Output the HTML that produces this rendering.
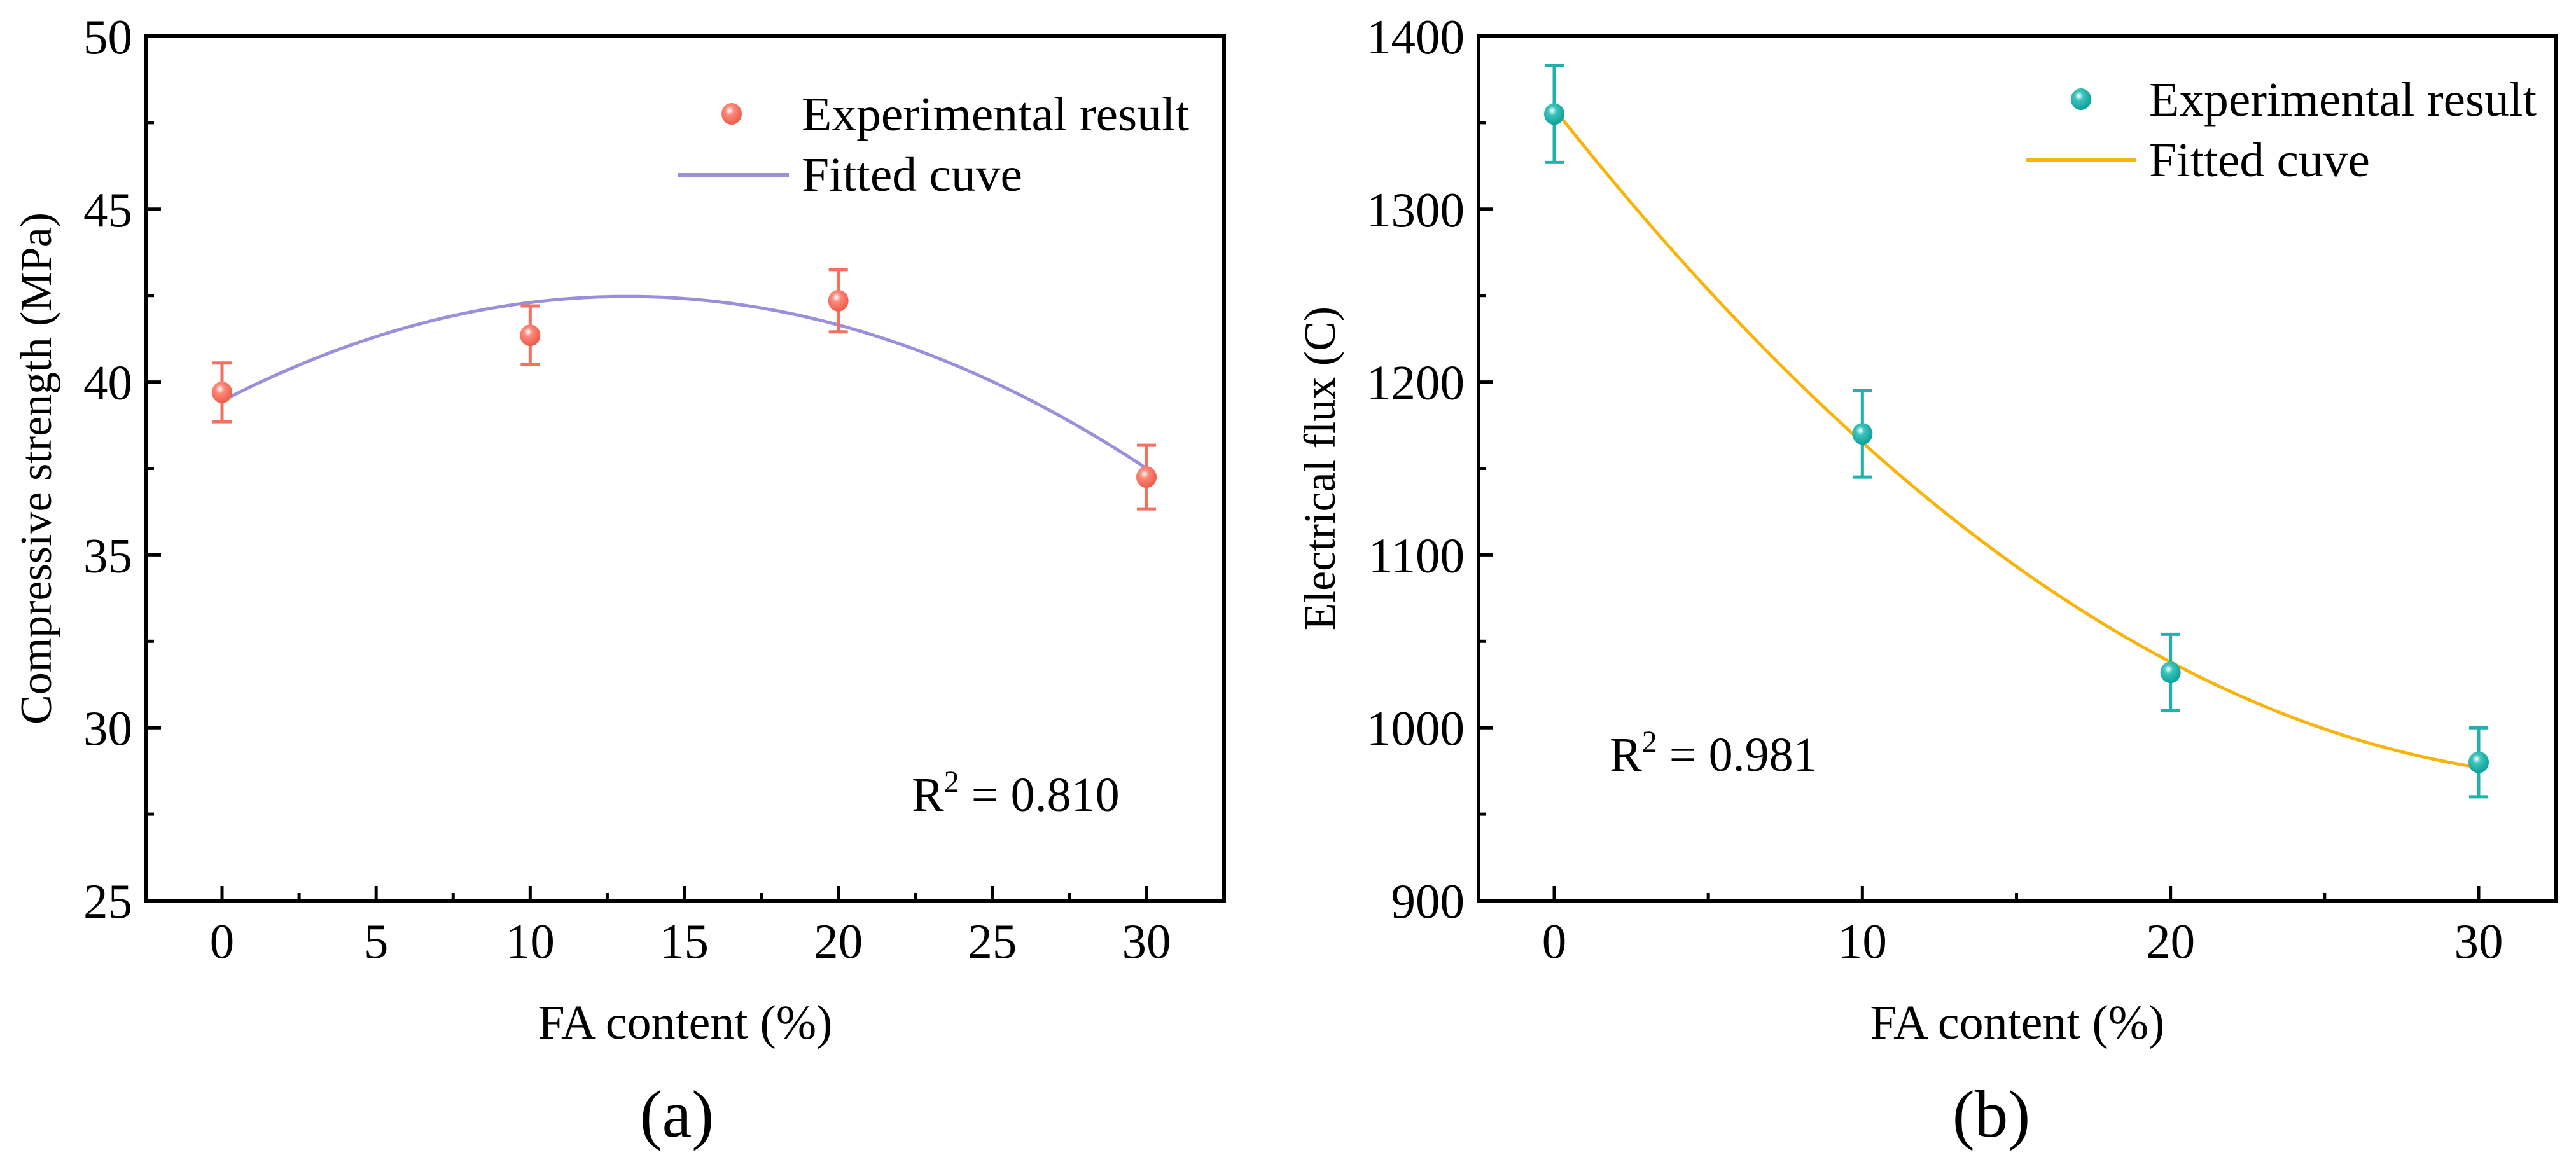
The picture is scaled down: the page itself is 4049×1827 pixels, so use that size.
<!DOCTYPE html>
<html><head><meta charset="utf-8"><style>
html,body{margin:0;padding:0;background:#fff}
svg{display:block;font-family:"Liberation Serif",serif}
</style></head><body>
<svg id="chart" width="4049" height="1827" viewBox="0 0 4049 1827" xmlns="http://www.w3.org/2000/svg">
<defs>
<radialGradient id="gRed" cx="0.4" cy="0.35" r="0.6"><stop offset="0" stop-color="#fff"/><stop offset="0.35" stop-color="#fb8a7a"/><stop offset="1" stop-color="#f0604e"/></radialGradient>
<radialGradient id="gTeal" cx="0.4" cy="0.35" r="0.6"><stop offset="0" stop-color="#fff"/><stop offset="0.35" stop-color="#3cc4bc"/><stop offset="1" stop-color="#12a39c"/></radialGradient>
</defs>
<g id="pa"></g>
<g id="pb"></g>
</svg>
<script>
const NS='http://www.w3.org/2000/svg';
// Panel A data
const aX=[0,10,20,30];
const aY=[39.7,41.35,42.35,37.25];
const aErr=[0.85,0.85,0.9,0.92];
const aFit=[39.45,0.46,-0.0175];
const aXTicks=[0,5,10,15,20,25,30];
const aYTicks=[25,30,35,40,45,50];
// Panel B data
const bX=[0,10,20,30];
const bY=[1355,1170,1032,980];
const bErr=[28,25,22,20];
const bFit=[1358,-22.6,0.33];
const bXTicks=[0,10,20,30];
const bYTicks=[900,1000,1100,1200,1300,1400];

function mk(parent,tag,attrs,text){const e=document.createElementNS(NS,tag);for(const k in attrs)e.setAttribute(k,attrs[k]);if(text!==undefined)e.textContent=text;parent.appendChild(e);return e;}

function panel(g,cfg){
  const L=cfg.left,R=cfg.right,T=57,B=1416;
  const sx=v=>cfg.x0px+(v-cfg.xmin)*(cfg.x1px-cfg.x0px)/(cfg.xmax-cfg.xmin);
  const sy=v=>B-(v-cfg.ymin)*(B-T)/(cfg.ymax-cfg.ymin);
  let e;
  e=mk(g,'rect',{x:L,y:T,width:R-L,height:B-T,fill:'none',stroke:'#000','stroke-width':6});
  
  
  // x ticks
  const xt=cfg.xticks;
  const step=xt[1]-xt[0];
  for(let i=0;i<xt.length;i++){
    const x=sx(xt[i]);
    e=mk(g,'line',{x1:x,x2:x,y1:B,y2:B-23,stroke:'#000','stroke-width':5});
    
    
    e=mk(g,'text',{x:x,y:1506,'font-size':77,'text-anchor':'middle'},String(xt[i]));
    
    
    if(i<xt.length-1){const xm=sx(xt[i]+step/2);
      e=mk(g,'line',{x1:xm,x2:xm,y1:B,y2:B-12,stroke:'#000','stroke-width':5});
      
      }
  }
  const yt=cfg.yticks;const ys=yt[1]-yt[0];
  for(let i=0;i<yt.length;i++){
    const y=sy(yt[i]);
    e=mk(g,'line',{x1:L,x2:L+23,y1:y,y2:y,stroke:'#000','stroke-width':5});
    
    
    e=mk(g,'text',{x:L-22,y:y+27,'font-size':77,'text-anchor':'end'},String(yt[i]));
    
    
    if(i<yt.length-1){const ym=sy(yt[i]+ys/2);
      e=mk(g,'line',{x1:L,x2:L+12,y1:ym,y2:ym,stroke:'#000','stroke-width':5});
      
      }
  }
  // titles
  e=mk(g,'text',{x:(L+R)/2,y:1633,'font-size':76,'text-anchor':'middle'},'FA content (%)');
  
  
  e=mk(g,'text',{x:0,y:0,'font-size':70,'text-anchor':'middle',transform:`translate(${cfg.ytx},${(T+B)/2}) rotate(-90)`},cfg.ytitle);
  
  
  e=mk(g,'text',{x:cfg.labx,y:1787,'font-size':105,'text-anchor':'middle'},cfg.lab);
  
  
  // fit curve
  let d='';
  for(let i=0;i<=120;i++){const v=cfg.xmin0+(cfg.xmax0-cfg.xmin0)*i/120;const f=cfg.fit[0]+cfg.fit[1]*v+cfg.fit[2]*v*v;d+=(i?'L':'M')+sx(v).toFixed(1)+','+sy(f).toFixed(1);}
  e=mk(g,'path',{d:d,fill:'none',stroke:cfg.lc,'stroke-width':5});
  
  
  // points
  for(let i=0;i<cfg.xs.length;i++){
    const x=sx(cfg.xs[i]),y=sy(cfg.ys[i]),y1=sy(cfg.ys[i]+cfg.err[i]),y2=sy(cfg.ys[i]-cfg.err[i]);
    const eg=mk(g,'g',{});
    
    
    mk(eg,'line',{x1:x,x2:x,y1:y1,y2:y2,stroke:cfg.mc,'stroke-width':5});
    mk(eg,'line',{x1:x-15,x2:x+15,y1:y1,y2:y1,stroke:cfg.mc,'stroke-width':5});
    mk(eg,'line',{x1:x-15,x2:x+15,y1:y2,y2:y2,stroke:cfg.mc,'stroke-width':5});
    e=mk(g,'ellipse',{cx:x,cy:y,rx:16,ry:17,fill:cfg.grad});
    
    
  }
  // legend
  const lg=mk(g,'g',{});
  
  
  e=mk(lg,'ellipse',{cx:cfg.legMx,cy:cfg.legY1-26,rx:16,ry:17,fill:cfg.grad});
  
  
  e=mk(lg,'text',{x:cfg.legTx,y:cfg.legY1,'font-size':76,textLength:609,lengthAdjust:'spacingAndGlyphs'},'Experimental result');
  
  
  e=mk(lg,'line',{x1:cfg.legTx-194,x2:cfg.legTx-20,y1:cfg.legY1+70,y2:cfg.legY1+70,stroke:cfg.lc,'stroke-width':6});
  
  
  e=mk(lg,'text',{x:cfg.legTx,y:cfg.legY1+95,'font-size':76,textLength:347,lengthAdjust:'spacingAndGlyphs'},'Fitted cuve');
  
  
  // R2
  const r=mk(g,'text',{x:cfg.rx,y:cfg.ry,'font-size':76});
  
  
  r.appendChild(document.createTextNode('R'));
  mk(r,'tspan',{dy:-30,'font-size':48},'2');
  mk(r,'tspan',{dy:30},' = '+cfg.r2);
}
panel(document.getElementById('pa'),{left:230,right:1924,x0px:349,x1px:1802,xmin:0,xmax:30,xmin0:0,xmax0:30,ymin:25,ymax:50,
  xticks:aXTicks,yticks:aYTicks,xs:aX,ys:aY,err:aErr,fit:aFit,mc:'#f4715f',lc:'#9a8fda',grad:'url(#gRed)',
  ytitle:'Compressive strength (MPa)',ytx:80,lab:'(a)',labx:1064,legMx:1150,legTx:1260,legY1:205,rx:1433,ry:1275,r2:'0.810'});
panel(document.getElementById('pb'),{left:2324,right:4018,x0px:2443,x1px:3896,xmin:0,xmax:30,xmin0:0,xmax0:30,ymin:900,ymax:1400,
  xticks:bXTicks,yticks:bYTicks,xs:bX,ys:bY,err:bErr,fit:bFit,mc:'#1fb2aa',lc:'#f8b40a',grad:'url(#gTeal)',
  ytitle:'Electrical flux (C)',ytx:2098,lab:'(b)',labx:3130,legMx:3271,legTx:3378,legY1:182,rx:2530,ry:1212,r2:'0.981'});
</script>
</body></html>
